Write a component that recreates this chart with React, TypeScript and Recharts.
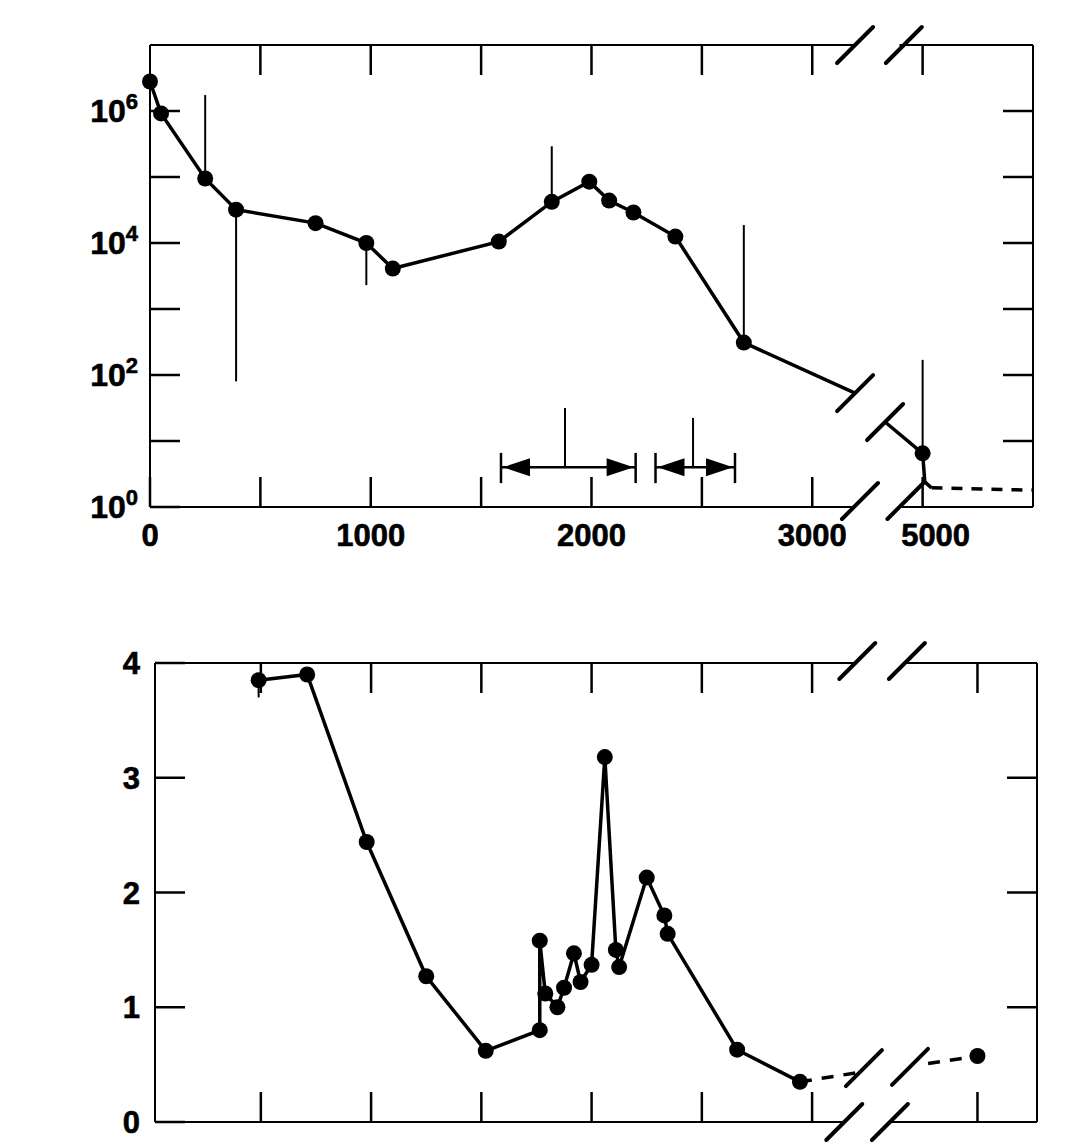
import React from "react";
import { LineChart, Line, XAxis, YAxis, ErrorBar, ReferenceLine, ReferenceDot } from "recharts";

// ---- upper panel (log scale) ----
const topX = [0, 50, 250, 390, 750, 980, 1100, 1580, 1820, 1990, 2080, 2190, 2380, 2690];
const topY = [2.8e6, 9.2e5, 9.5e4, 3.2e4, 2.0e4, 1.0e4, 4.1e3, 1.05e4, 4.2e4, 8.5e4, 4.4e4, 2.9e4, 1.25e4, 310];
const topErrDown = [0, 0, 0, 31920, 0, 7700, 0, 0, 0, 0, 0, 0, 0, 0];
const topErrUp = [0, 0, 1.65e6, 0, 0, 0, 0, 0, 2.5e5, 0, 0, 0, 0, 1.84e4];
// line runs into the axis break and comes out of it
const topCutIn = { x: 3194, v: 53 };
const topCutOut = { x: 4830, v: 19.4 };
const topFar = { x: 5000, v: 6.5, up: 163 };
const topDrop = [{ x: 5010, v: 2.4 }, { x: 5040, v: 1.95 }];
const topTail = [{ x: 5040, v: 1.95 }, { x: 5500, v: 1.8 }];

// energy ranges marked with arrows
const spanLo = [1590, 2290];
const spanHi = [2200, 2650];
const spanMid = [1880, 2460];
const spanMidTop = [31.6, 22.4];
const spanLevel = 4.0;
const spanBar = [2.3, 6.6];

const decades = [1, 10, 100, 1e3, 1e4, 1e5, 1e6];
const topTicksX = [0, 500, 1000, 1500, 2000, 2500, 3000, 3500];

// ---- lower panel (linear) ----
const lowX = [490, 710, 980, 1250, 1520, 1765, 1765, 1790, 1845, 1875, 1920, 1950, 2000, 2060, 2110, 2125, 2250, 2330, 2345, 2660, 2945];
const lowY = [3.85, 3.9, 2.44, 1.27, 0.62, 0.8, 1.58, 1.12, 1.0, 1.17, 1.47, 1.22, 1.37, 3.18, 1.5, 1.35, 2.13, 1.8, 1.64, 0.63, 0.35];
const lowErrDown = [0.15];
const lowErrUp = [0.06];
const lowCutIn = { x: 3204, v: 0.43 };
const lowCutOut = { x: 4776, v: 0.51 };
const lowFar = { x: 5000, v: 0.575 };
const lowTicksX = [500, 1000, 1500, 2000, 2500, 3000, 3750];

// axis break: values past 4000 are pulled left on the drawn axis
const topPlot = (x: number) => (x >= 4000 ? x - 1500 : x);
const lowPlot = (x: number) => (x >= 4000 ? x - 1250 : x);

const topMain = [
  ...topX.map((x, i) => ({
    x: topPlot(x),
    v: topY[i],
    dot: true,
    err: topErrDown[i] || topErrUp[i] ? [topErrDown[i], topErrUp[i]] : undefined,
  })),
  { x: topPlot(topCutIn.x), v: topCutIn.v },
];
const topAfter = [
  { x: topPlot(topCutOut.x), v: topCutOut.v },
  { x: topPlot(topFar.x), v: topFar.v, dot: true, err: [0, topFar.up] },
  ...topDrop.map((d) => ({ x: topPlot(d.x), v: d.v })),
];
const topDash = topTail.map((d) => ({ x: topPlot(d.x), v: d.v }));

const lowMain = lowX.map((x, i) => ({
  x: lowPlot(x),
  v: lowY[i],
  dot: true,
  err: lowErrDown[i] || lowErrUp[i] ? [lowErrDown[i] || 0, lowErrUp[i] || 0] : undefined,
}));
const lowDashA = [
  { x: lowPlot(lowX[lowX.length - 1]), v: lowY[lowY.length - 1] },
  { x: lowPlot(lowCutIn.x), v: lowCutIn.v },
];
const lowDashB = [
  { x: lowPlot(lowCutOut.x), v: lowCutOut.v },
  { x: lowPlot(lowFar.x), v: lowFar.v, dot: true },
];

const FONT = "'Liberation Sans', Arial, Helvetica, sans-serif";
const tickStyle = { stroke: "#000", strokeWidth: 2.5 };
const axisStyle = { stroke: "#000", strokeWidth: 2 };
const noLabel = () => <g />;

const drawDot = (r: number) => (p: any) =>
  p.payload && p.payload.dot ? (
    <circle key={`d${p.index}`} cx={p.cx} cy={p.cy} r={r} fill="#000" />
  ) : (
    <g key={`d${p.index}`} />
  );

// slash of the "//" break symbol; shift moves it along its own diagonal
const slash = (shift = 0) => (p: any) => (
  <line
    x1={p.cx - 18 + shift}
    y1={p.cy + 18 - shift}
    x2={p.cx + 18 + shift}
    y2={p.cy - 18 - shift}
    stroke="#000"
    strokeWidth={4}
    strokeLinecap="round"
  />
);

const arrowHead = (dir: number) => (p: any) => {
  const tip = p.cx - dir * 2;
  const base = tip - dir * 27;
  return <polygon points={`${tip},${p.cy} ${base},${p.cy - 9} ${base},${p.cy + 9}`} fill="#000" />;
};

const labelProps = { fontFamily: FONT, fontWeight: 700, fill: "#000", stroke: "#000", strokeWidth: 0.6 };

function PowTick(props: any) {
  const { x, y, payload } = props;
  const e = Math.round(Math.log10(payload.value));
  if (e % 2 !== 0) return <g />;
  return (
    <text x={x - 12} y={y + 11} textAnchor="end" fontSize={32} {...labelProps}>
      10
      <tspan dy={-13} fontSize={22}>
        {e}
      </tspan>
    </text>
  );
}

function TopXTick(props: any) {
  const { x, y, payload } = props;
  const real = payload.value > 3300 ? payload.value + 1500 : payload.value;
  if (real % 1000 !== 0) return <g />;
  return (
    <text x={x + (real === 5000 ? 13 : 0)} y={y + 39} textAnchor="middle" fontSize={31} {...labelProps}>
      {real}
    </text>
  );
}

function LowYTick(props: any) {
  const { x, y, payload } = props;
  return (
    <text x={x - 15} y={y + 11} textAnchor="end" fontSize={31} {...labelProps}>
      {payload.value}
    </text>
  );
}

function seg(x1: number, y1: number, x2: number, y2: number, key: string, w = 2) {
  return (
    <ReferenceLine
      key={key}
      segment={[{ x: x1, y: y1 }, { x: x2, y: y2 }]}
      stroke="#000"
      strokeWidth={w}
      ifOverflow="visible"
    />
  );
}

function TopPanel() {
  const gapA = 3189;
  const gapB = 3395;
  return (
    <LineChart width={1080} height={580} margin={{ top: 30, right: 27, bottom: 23, left: 90 }}>
      <XAxis type="number" dataKey="x" domain={[0, 4000]} ticks={topTicksX} interval={0} tickSize={-30} tickMargin={30} axisLine={false} tickLine={tickStyle} tick={TopXTick} height={50} />
      <XAxis xAxisId="top" orientation="top" type="number" dataKey="x" domain={[0, 4000]} ticks={topTicksX.slice(1)} interval={0} tickSize={-30} axisLine={false} tickLine={tickStyle} tick={noLabel} height={15} />
      <YAxis type="number" scale="log" domain={[1, 1e7]} ticks={decades} interval={0} tickSize={-30} tickMargin={30} axisLine={axisStyle} tickLine={tickStyle} tick={PowTick} width={60} />
      <YAxis yAxisId="right" orientation="right" type="number" scale="log" domain={[1, 1e7]} ticks={decades.slice(1)} interval={0} tickSize={-30} axisLine={axisStyle} tickLine={tickStyle} tick={noLabel} width={20} />

      {/* frame with the axis break gap */}
      {seg(0, 1e7, gapA, 1e7, "t1")}
      {seg(gapB, 1e7, 4000, 1e7, "t2")}
      {seg(0, 1, gapA, 1, "b1")}
      {seg(gapB, 1, 4000, 1, "b2")}
      <ReferenceDot x={gapA + 5} y={1e7} shape={slash(0)} ifOverflow="visible" />
      <ReferenceDot x={gapB + 20} y={1e7} shape={slash(0)} ifOverflow="visible" />
      <ReferenceDot x={gapA} y={1} shape={slash(6)} ifOverflow="visible" />
      <ReferenceDot x={gapB} y={1} shape={slash(6)} ifOverflow="visible" />
      <ReferenceDot x={topPlot(topCutIn.x)} y={topCutIn.v} shape={slash(0)} ifOverflow="visible" />
      <ReferenceDot x={topPlot(topCutOut.x)} y={topCutOut.v} shape={slash(0)} ifOverflow="visible" />

      {/* range arrows */}
      {spanLo.map((lo, i) => (
        <React.Fragment key={`s${i}`}>
          {seg(lo, spanLevel, spanHi[i], spanLevel, `sh${i}`, 2.5)}
          {seg(lo, spanBar[0], lo, spanBar[1], `sl${i}`, 2.5)}
          {seg(spanHi[i], spanBar[0], spanHi[i], spanBar[1], `sr${i}`, 2.5)}
          {seg(spanMid[i], spanLevel, spanMid[i], spanMidTop[i], `sm${i}`, 2)}
          <ReferenceDot x={lo} y={spanLevel} shape={arrowHead(-1)} ifOverflow="visible" />
          <ReferenceDot x={spanHi[i]} y={spanLevel} shape={arrowHead(1)} ifOverflow="visible" />
        </React.Fragment>
      ))}

      {/* invisible twin so the top and right frame axes get their ticks */}
      <Line data={topMain} dataKey="v" xAxisId="top" yAxisId="right" stroke="none" dot={false} activeDot={false} isAnimationActive={false} legendType="none" />

      <Line data={topMain} dataKey="v" type="linear" stroke="#000" strokeWidth={3.5} dot={drawDot(8)} activeDot={false} isAnimationActive={false}>
        <ErrorBar dataKey="err" direction="y" width={0} stroke="#000" strokeWidth={2} />
      </Line>
      <Line data={topAfter} dataKey="v" type="linear" stroke="#000" strokeWidth={3.5} dot={drawDot(8)} activeDot={false} isAnimationActive={false}>
        <ErrorBar dataKey="err" direction="y" width={0} stroke="#000" strokeWidth={2} />
      </Line>
      <Line data={topDash} dataKey="v" type="linear" stroke="#000" strokeWidth={3.5} strokeDasharray="11 9" dot={false} activeDot={false} isAnimationActive={false} />
    </LineChart>
  );
}

function LowPanel() {
  return (
    <LineChart width={1080} height={546} margin={{ top: 48, right: 23, bottom: 4, left: 95 }}>
      <XAxis type="number" dataKey="x" domain={[20, 4020]} ticks={lowTicksX} interval={0} tickSize={-30} axisLine={false} tickLine={tickStyle} tick={noLabel} height={20} />
      <XAxis xAxisId="top" orientation="top" type="number" dataKey="x" domain={[20, 4020]} ticks={lowTicksX} interval={0} tickSize={-30} axisLine={false} tickLine={tickStyle} tick={noLabel} height={15} />
      <YAxis type="number" domain={[0, 4]} ticks={[0, 1, 2, 3, 4]} interval={0} tickSize={-30} tickMargin={30} axisLine={axisStyle} tickLine={tickStyle} tick={LowYTick} width={60} />
      <YAxis yAxisId="right" orientation="right" type="number" domain={[0, 4]} ticks={[1, 2, 3]} interval={0} tickSize={-30} axisLine={axisStyle} tickLine={tickStyle} tick={noLabel} width={20} />

      {seg(20, 4, 3196, 4, "t1")}
      {seg(3421, 4, 4020, 4, "t2")}
      {seg(20, 0, 3146, 0, "b1")}
      {seg(3353, 0, 4020, 0, "b2")}
      <ReferenceDot x={3196} y={4} shape={slash(2)} ifOverflow="visible" />
      <ReferenceDot x={3421} y={4} shape={slash(2)} ifOverflow="visible" />
      <ReferenceDot x={3146} y={0} shape={slash(0)} ifOverflow="visible" />
      <ReferenceDot x={3353} y={0} shape={slash(0)} ifOverflow="visible" />
      <ReferenceDot x={3235} y={0.47} shape={slash(0)} ifOverflow="visible" />
      <ReferenceDot x={3444} y={0.48} shape={slash(0)} ifOverflow="visible" />

      {/* invisible twin so the top and right frame axes get their ticks */}
      <Line data={lowMain} dataKey="v" xAxisId="top" yAxisId="right" stroke="none" dot={false} activeDot={false} isAnimationActive={false} legendType="none" />

      <Line data={lowMain} dataKey="v" type="linear" stroke="#000" strokeWidth={3.5} dot={drawDot(8)} activeDot={false} isAnimationActive={false}>
        <ErrorBar dataKey="err" direction="y" width={0} stroke="#000" strokeWidth={2} />
      </Line>
      <Line data={lowDashA} dataKey="v" type="linear" stroke="#000" strokeWidth={3.5} strokeDasharray="12 10" dot={false} activeDot={false} isAnimationActive={false} />
      <Line data={lowDashB} dataKey="v" type="linear" stroke="#000" strokeWidth={3.5} strokeDasharray="12 10" dot={drawDot(8)} activeDot={false} isAnimationActive={false} />
    </LineChart>
  );
}

export default function App() {
  return (
    <div style={{ position: "absolute", left: 0, top: 0, width: 1080, height: 1146, background: "#fff" }}>
      <div style={{ position: "absolute", left: 0, top: 0 }}>
        <TopPanel />
      </div>
      <div style={{ position: "absolute", left: 0, top: 600 }}>
        <LowPanel />
      </div>
    </div>
  );
}
